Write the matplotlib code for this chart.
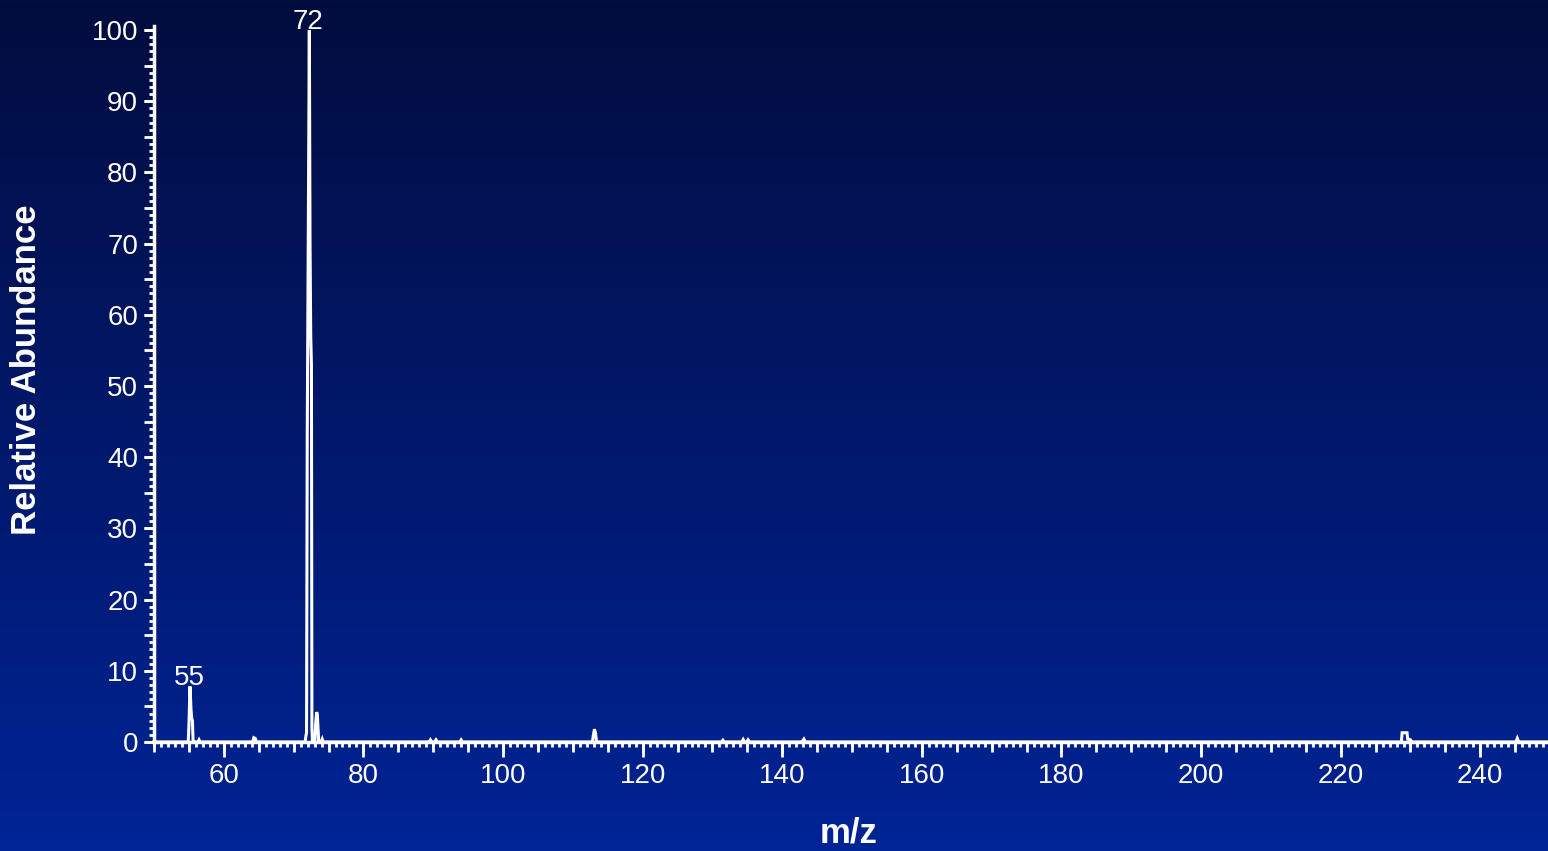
import matplotlib.pyplot as plt
import numpy as np
from matplotlib.ticker import MultipleLocator, NullFormatter

plt.rcParams['font.family'] = ['Liberation Sans', 'DejaVu Sans']

# profile trace: m/z and relative abundance, baseline points included
mz = [50.0, 54.9, 55.0, 55.15, 55.3, 55.4, 55.5, 55.6,
      56.3, 56.45, 56.6, 64.1, 64.3, 64.5, 64.7,
      71.65, 71.75, 71.85, 71.95, 72.25, 72.35, 72.45, 72.55, 72.62, 72.7,
      73.05, 73.15, 73.3, 73.4, 73.5, 73.6, 73.95, 74.1, 74.25,
      89.4, 89.6, 89.8, 90.2, 90.4, 90.6, 93.8, 94.0, 94.2,
      112.8, 112.95, 113.1, 113.25, 113.4, 131.3, 131.5, 131.7,
      134.2, 134.4, 134.6, 134.9, 135.1, 135.3, 142.8, 143.1, 143.3,
      228.7, 228.8, 229.5, 229.6, 229.7, 230.0, 230.2, 245.1, 245.3, 245.5, 249.7]
abund = [0, 0, 2.3, 7.8, 4.5, 3.3, 3.0, 0,
         0, 0.3, 0, 0, 0.6, 0.5, 0,
         0, 0.8, 1.3, 43, 100, 70, 57, 53, 2, 0,
         0, 2.5, 4.2, 3.8, 1.8, 0, 0, 0.4, 0,
         0, 0.3, 0, 0, 0.3, 0, 0, 0.3, 0,
         0, 1.0, 1.8, 1.2, 0, 0, 0.25, 0,
         0, 0.35, 0, 0, 0.3, 0, 0, 0.4, 0,
         0, 1.3, 1.3, 0.4, 0.4, 0.3, 0, 0, 0.5, 0, 0]

# labelled peaks
peak_mz = [55, 72]
peak_int = [7.8, 100]

fig = plt.figure(figsize=(15.48, 8.51), dpi=100)

# vertical background gradient
bg = fig.add_axes([0, 0, 1, 1], zorder=0)
top = np.array([2, 12, 62]) / 255
bot = np.array([0, 36, 150]) / 255
t = np.linspace(0, 1, 256)[:, None]
grad = top[None, :] * (1 - t) + bot[None, :] * t
bg.imshow(grad[:, None, :], aspect='auto', extent=[0, 1, 0, 1])
bg.axis('off')

ax = fig.add_axes([0.0995, 0.1281, 0.9005, 0.8366], zorder=1)
ax.patch.set_alpha(0)
ax.plot(mz, abund, color='white', lw=2.2, clip_on=False, solid_joinstyle='miter')

for m, h in zip(peak_mz, peak_int):
    ax.annotate(str(m), (m, h), xytext=(0, 1), textcoords='offset points',
                ha='center', va='baseline', color='white', fontsize=20)

ax.set_xlim(50, 249.7)
ax.set_ylim(0, 100)
for s in ['top', 'right']:
    ax.spines[s].set_visible(False)
for s in ['left', 'bottom']:
    ax.spines[s].set_color('white')
    ax.spines[s].set_linewidth(2.5)
ax.spines['left'].set_bounds(0, 100.6)

ax.xaxis.set_major_locator(MultipleLocator(20))
ax.xaxis.set_minor_locator(MultipleLocator(1))
ax.yaxis.set_major_locator(MultipleLocator(10))
ax.yaxis.set_minor_locator(MultipleLocator(1))
ax.tick_params(which='both', colors='white', direction='out', width=2)
ax.tick_params(axis='x', which='major', length=11, labelsize=20, pad=4)
ax.tick_params(axis='y', which='major', length=7, labelsize=20, pad=4.5)
ax.tick_params(which='minor', length=3.6)

# medium ticks every 5 units
sx = ax.secondary_xaxis('bottom')
sx.xaxis.set_major_locator(MultipleLocator(5))
sx.xaxis.set_major_formatter(NullFormatter())
sx.tick_params(colors='white', length=7, width=2)
sx.spines['bottom'].set_visible(False)
sy = ax.secondary_yaxis('left')
sy.yaxis.set_major_locator(MultipleLocator(5))
sy.yaxis.set_major_formatter(NullFormatter())
sy.tick_params(colors='white', length=7, width=2)
sy.spines['left'].set_visible(False)

fig.text(0.548, 0.021, 'm/z', color='white', fontsize=25, fontweight='bold',
         ha='center', va='center')
fig.text(0.0174, 0.565, 'Relative Abundance', color='white', fontsize=25,
         fontweight='bold', ha='center', va='center', rotation=90)

fig.savefig('out.png', dpi=100)
